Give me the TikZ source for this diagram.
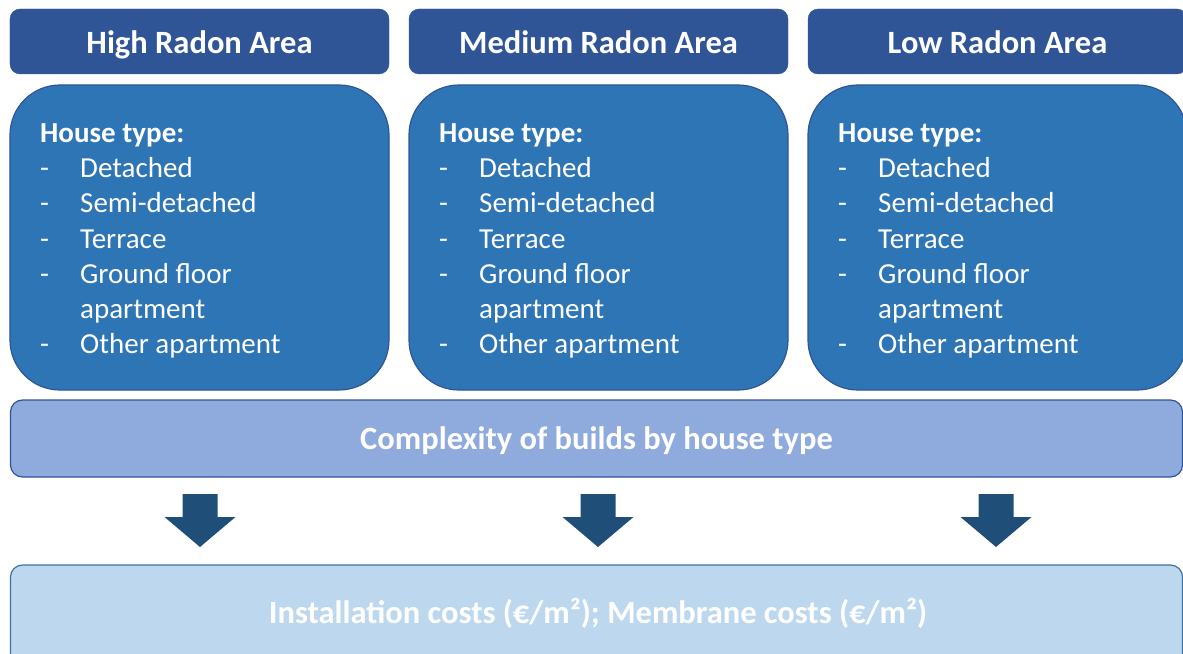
\documentclass[tikz,border=0pt]{standalone}
\usepackage{fontspec}
\setmainfont{Carlito}
\definecolor{hdrc}{HTML}{2F5597}
\definecolor{boxc}{HTML}{2E75B6}
\definecolor{boxline}{HTML}{2F5597}
\definecolor{cplxc}{HTML}{8FAADC}
\definecolor{botc}{HTML}{BDD7EE}
\definecolor{botline}{HTML}{41719C}
\definecolor{arrc}{HTML}{1F4E79}
\begin{document}
\begin{tikzpicture}[x=1bp,y=-1bp,
  hdr/.style={fill=hdrc, draw=hdrc, rounded corners=10bp, minimum width=379bp, minimum height=65bp, inner sep=0pt, text=white, text height=24.5bp, text depth=0bp, font=\fontsize{32.5bp}{36bp}\selectfont\bfseries},
  hbox/.style={fill=boxc, draw=boxline, line width=1.2bp, rounded corners=50bp, minimum width=379bp, minimum height=305bp, inner sep=0pt},
  ltxt/.style={anchor=base west, inner sep=0pt, text=white, font=\fontsize{29bp}{33bp}\selectfont},
  bar/.style={rounded corners=12bp, line width=1.2bp, minimum width=1172bp, inner sep=0pt, text=white, text height=22bp, text depth=0bp, font=\fontsize{32.5bp}{36bp}\selectfont\bfseries},
  blockarrow/.style={fill=arrc, draw=none}]
\useasboundingbox (0,0) rectangle (1183,654);
\clip (0,0) rectangle (1183,654);
\foreach \i/\t in {0/High,1/Medium,2/Low} {
  \pgfmathsetmacro\ox{10+399*\i}
  \node[hdr] (h\i) at (\ox+189.5,41.5) {\t{} Radon Area};
  \node[hbox] (b\i) at (\ox+189.5,237.5) {};
  \node[ltxt,font=\fontsize{29bp}{33bp}\selectfont\bfseries] (ht\i) at (\ox+30,143) {House type:};
  \foreach \y/\d/\s in {178/-/Detached,213/-/Semi-detached,248/-/Terrace,283/-/Ground floor,318//apartment,353/-/Other apartment} {
    \node[ltxt] at (\ox+30,\y) {\d};
    \node[ltxt] at (\ox+70,\y) {\s};
  }
  \pgfmathsetmacro\cx{200+398*\i}
  \fill[blockarrow] (\cx-17.5,494) -- (\cx+17.5,494) -- (\cx+17.5,517) -- (\cx+35.5,517) -- (\cx,547) -- (\cx-35.5,517) -- (\cx-17.5,517) -- cycle;
}
\node[bar, fill=cplxc, draw=boxline, minimum height=77bp] (cplx) at (596.5,438.5) {Complexity of builds by house type};
\node[bar, fill=botc, draw=botline, minimum height=110bp] (cost) at (596.5,620) {};
\node[anchor=base, inner sep=0pt, text=white, font=\fontsize{32.5bp}{36bp}\selectfont\bfseries] (costt) at (598,623) {Installation costs (€/m²); Membrane costs (€/m²)};
\end{tikzpicture}
\end{document}
